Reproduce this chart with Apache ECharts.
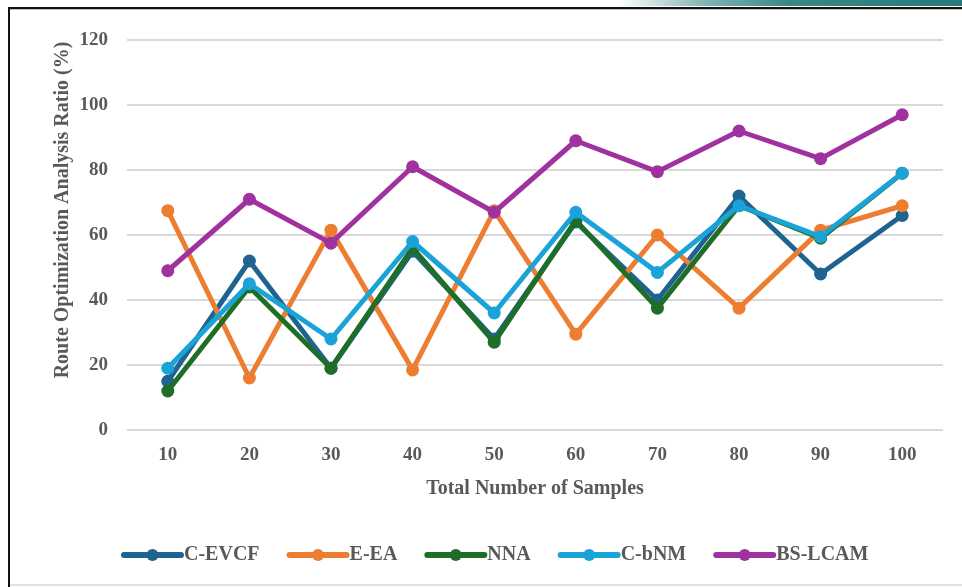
<!DOCTYPE html>
<html>
<head>
<meta charset="utf-8">
<title>Route Optimization Analysis Ratio</title>
<script src="https://cdn.jsdelivr.net/npm/echarts@6/dist/echarts.min.js"></script>
<style>
  html, body { margin: 0; padding: 0; background: #ffffff; }
  #chart { width: 962px; height: 587px; }
</style>
</head>
<body>
<div id="chart"></div>
<script>
// Sample counts along the x axis
const categories = ['10', '20', '30', '40', '50', '60', '70', '80', '90', '100'];

// Route optimization analysis ratio (%) per method
const cEvcf  = [15, 52, 19, 55, 28, 64, 40, 72, 48, 66];
const eEa    = [67.5, 16, 61.5, 18.5, 67.5, 29.5, 60, 37.5, 61.5, 69];
const nna    = [12, 44, 19, 56, 27, 64.5, 37.5, 69, 59, 79];
const cBnm   = [19, 45, 28, 58, 36, 67, 48.5, 69, 59.5, 79];
const bsLcam = [49, 71, 57.5, 81, 67, 89, 79.5, 92, 83.5, 97];

const seriesNames = ['C-EVCF', 'E-EA', 'NNA', 'C-bNM', 'BS-LCAM'];
const seriesValues = [cEvcf, eEa, nna, cBnm, bsLcam];
const seriesColors = ['#1f6391', '#ed7d31', '#1e6e28', '#19a3d9', '#a0329f'];

// Y axis range
const yMin = 0, yMax = 120, yStep = 20;

const textGray = '#595959';
const serif = '"Liberation Serif", "DejaVu Serif", serif';

const chart = echarts.init(document.getElementById('chart'), null, { renderer: 'canvas' });

chart.setOption({
  backgroundColor: '#ffffff',
  animation: false,
  color: seriesColors,
  grid: { left: 127, right: 19, top: 40, bottom: 157, containLabel: false },
  legend: {
    data: seriesNames,
    left: 116,
    top: 540,
    itemWidth: 57,
    itemHeight: 15,
    itemGap: 27,
    lineStyle: { width: 6, cap: 'round' },
    textStyle: { color: textGray, fontFamily: serif, fontWeight: 'bold', fontSize: 20, padding: [0, 0, 0, -2] }
  },
  xAxis: {
    type: 'category',
    data: categories,
    boundaryGap: true,
    axisLine: { show: false },
    axisTick: { show: false },
    axisLabel: { color: textGray, fontFamily: serif, fontWeight: 'bold', fontSize: 19, margin: 16 },
    name: 'Total Number of Samples',
    nameLocation: 'middle',
    nameGap: 49,
    nameTextStyle: { color: textGray, fontFamily: serif, fontWeight: 'bold', fontSize: 20 }
  },
  yAxis: {
    type: 'value',
    min: yMin,
    max: yMax,
    interval: yStep,
    axisLine: { show: false },
    axisTick: { show: false },
    axisLabel: { color: textGray, fontFamily: serif, fontWeight: 'bold', fontSize: 19, margin: 19 },
    splitLine: { lineStyle: { color: '#d9d9d9', width: 2 } }
  },
  graphic: [
    // axis title on the left, rotated
    {
      type: 'text',
      x: 63,
      y: 210,
      rotation: Math.PI / 2,
      style: {
        text: 'Route Optimization Analysis Ratio (%)',
        fill: textGray,
        font: 'bold 20px ' + serif,
        textAlign: 'center',
        textVerticalAlign: 'middle'
      }
    },
    // teal accent band along the top edge
    {
      type: 'rect',
      shape: { x: 620, y: 0, width: 342, height: 6 },
      style: {
        fill: new echarts.graphic.LinearGradient(0, 0, 1, 0, [
          { offset: 0, color: 'rgba(46,128,128,0)' },
          { offset: 0.25, color: 'rgba(46,128,128,0.6)' },
          { offset: 0.5, color: 'rgba(46,128,128,0.95)' },
          { offset: 1, color: 'rgba(38,122,122,1)' }
        ])
      },
      silent: true
    },
    // frame: top rule
    { type: 'rect', shape: { x: 8, y: 7, width: 954, height: 2 }, style: { fill: '#111111' }, silent: true },
    { type: 'rect', shape: { x: 8, y: 9, width: 954, height: 1 }, style: { fill: '#bdbdbd' }, silent: true },
    // frame: left rule
    { type: 'rect', shape: { x: 8, y: 7, width: 2, height: 580 }, style: { fill: '#111111' }, silent: true },
    // frame: bottom rule
    { type: 'rect', shape: { x: 10, y: 584, width: 952, height: 2 }, style: { fill: '#e0e0e0' }, silent: true }
  ],
  series: seriesNames.map((name, i) => ({
    name: name,
    type: 'line',
    data: seriesValues[i],
    symbol: 'circle',
    symbolSize: 13,
    lineStyle: { width: 5, color: seriesColors[i] },
    itemStyle: { color: seriesColors[i] },
    z: 2 + i
  }))
});
</script>
</body>
</html>
